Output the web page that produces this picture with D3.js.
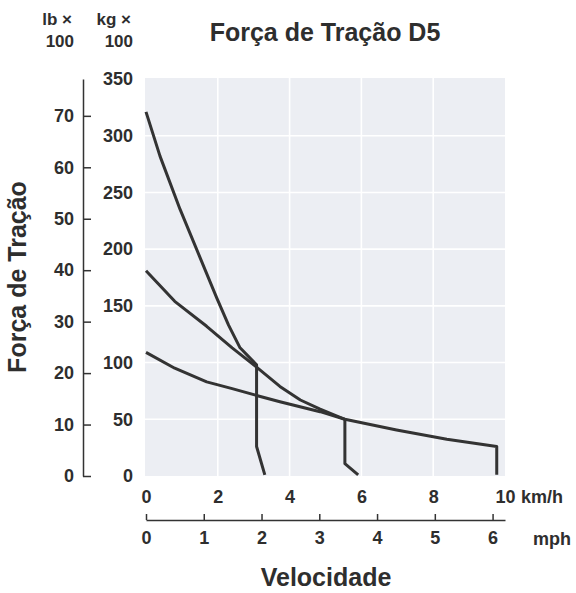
<!DOCTYPE html>
<html>
<head>
<meta charset="utf-8">
<script src="https://cdn.jsdelivr.net/npm/d3@7"></script>
<style>
  body { margin: 0; background: #fff; }
  svg text { font-family: "Liberation Sans", Arial, sans-serif; font-weight: 700; fill: #2e2e2e; }
</style>
</head>
<body>
<div id="chart"></div>
<script>
// valores
const kmhTicks = [0, 2, 4, 6, 8, 10];
const mphTicks = [0, 1, 2, 3, 4, 5, 6];
const kgTicks = [0, 50, 100, 150, 200, 250, 300, 350];
const lbTicks = [0, 10, 20, 30, 40, 50, 60, 70];

// 1a marcha
const gear1Kmh = [0, 0.39, 0.95, 1.50, 1.97, 2.30, 2.62, 3.08, 3.08, 3.31];
const gear1Kg  = [321, 282, 235, 193, 157, 133, 113, 98, 26, 1];
// 2a marcha
const gear2Kmh = [0, 0.8, 1.69, 2.4, 3.08, 3.73, 4.30, 4.85, 5.54, 5.54, 5.91];
const gear2Kg  = [181, 154, 132, 113, 96, 79, 67, 59, 50, 11, 1];
// 3a marcha
const gear3Kmh = [0, 0.8, 1.69, 2.4, 3.08, 3.73, 4.85, 5.54, 6.98, 8.38, 9.77, 9.77];
const gear3Kg  = [109, 95, 83, 77, 71, 65.5, 56.7, 50, 40.6, 32.4, 26, 1];

const KG_PER_LB = 4.536; // kg x100 por 10 lb x100 / 10

const width = 576, height = 593;
const svg = d3.select('#chart').append('svg')
  .attr('width', width)
  .attr('height', height);

const x = d3.scaleLinear().domain([0, 10]).range([146, 505]);
const xMph = d3.scaleLinear().domain([0, 10 / 1.609]).range([146, 505]);
const y = d3.scaleLinear().domain([0, 350]).range([476, 79]);
const yLb = d3.scaleLinear().domain([0, 350 / KG_PER_LB]).range([476, 79]);

// fundo cinza
svg.append('rect')
  .attr('x', x(0) - 1)
  .attr('y', y(350) - 1)
  .attr('width', x(10) - x(0) + 1)
  .attr('height', y(0) - y(350) + 1)
  .attr('fill', '#eceef3');

// grade
svg.append('g').selectAll('line')
  .data(kmhTicks.slice(1, -1))
  .enter().append('line')
  .attr('x1', d => x(d)).attr('x2', d => x(d))
  .attr('y1', y(350) - 1).attr('y2', y(0))
  .attr('stroke', '#fff').attr('stroke-width', 1.6);

svg.append('g').selectAll('line')
  .data(kgTicks.slice(1, -1))
  .enter().append('line')
  .attr('x1', x(0) - 1).attr('x2', x(10))
  .attr('y1', d => y(d)).attr('y2', d => y(d))
  .attr('stroke', '#fff').attr('stroke-width', 1.6);

function styleAxis(g) {
  g.attr('font-family', null).attr('font-size', null);
  g.selectAll('text').attr('font-size', '18px').attr('fill', '#2e2e2e');
  g.select('.domain').attr('stroke', '#333').attr('stroke-width', 1.5);
  g.selectAll('.tick line').attr('stroke', '#333').attr('stroke-width', 1.5);
}

// eixo lb
svg.append('g')
  .attr('transform', 'translate(83,0)')
  .call(d3.axisLeft(yLb)
    .tickValues(lbTicks)
    .tickSizeInner(-8)
    .tickSizeOuter(0)
    .tickPadding(9))
  .call(styleAxis);

// eixo kg (só rótulos)
svg.append('g')
  .attr('transform', 'translate(133,0)')
  .call(d3.axisLeft(y).tickValues(kgTicks).tickSize(0).tickPadding(0))
  .call(styleAxis)
  .call(g => g.select('.domain').remove());

// eixo km/h (só rótulos)
svg.append('g')
  .attr('transform', 'translate(0,490)')
  .call(d3.axisBottom(x).tickValues(kmhTicks).tickSize(0).tickPadding(0))
  .call(styleAxis)
  .call(g => g.select('.domain').remove());

// eixo mph
svg.append('g')
  .attr('transform', 'translate(0,520)')
  .call(d3.axisBottom(xMph)
    .tickValues(mphTicks)
    .tickFormat(d3.format('d'))
    .tickSizeInner(-6)
    .tickSizeOuter(0)
    .tickPadding(11))
  .call(styleAxis);

// curvas
const line = d3.line()
  .x(d => x(d[0]))
  .y(d => y(d[1]));

const gears = [
  d3.zip(gear1Kmh, gear1Kg),
  d3.zip(gear2Kmh, gear2Kg),
  d3.zip(gear3Kmh, gear3Kg)
];

svg.append('g').selectAll('path')
  .data(gears)
  .enter().append('path')
  .attr('d', line)
  .attr('fill', 'none')
  .attr('stroke', '#333')
  .attr('stroke-width', 3)
  .attr('stroke-linejoin', 'round');

// textos
svg.append('text')
  .attr('x', 325).attr('y', 41)
  .attr('text-anchor', 'middle')
  .attr('font-size', '25px')
  .text('Força de Tração D5');

svg.append('text')
  .attr('transform', 'translate(26,277) rotate(-90)')
  .attr('text-anchor', 'middle')
  .attr('font-size', '25px')
  .text('Força de Tração');

svg.append('text')
  .attr('x', 326).attr('y', 586)
  .attr('text-anchor', 'middle')
  .attr('font-size', '25px')
  .text('Velocidade');

svg.append('text')
  .attr('x', 521).attr('y', 503)
  .attr('font-size', '18px')
  .text('km/h');

svg.append('text')
  .attr('x', 533).attr('y', 545)
  .attr('font-size', '18px')
  .text('mph');

const unitLabels = [['lb ×', 72, 25], ['100', 74, 47], ['kg ×', 131, 25], ['100', 133, 47]];
svg.append('g').selectAll('text')
  .data(unitLabels)
  .enter().append('text')
  .attr('x', d => d[1]).attr('y', d => d[2])
  .attr('text-anchor', 'end')
  .attr('font-size', '17px')
  .text(d => d[0]);
</script>
</body>
</html>
